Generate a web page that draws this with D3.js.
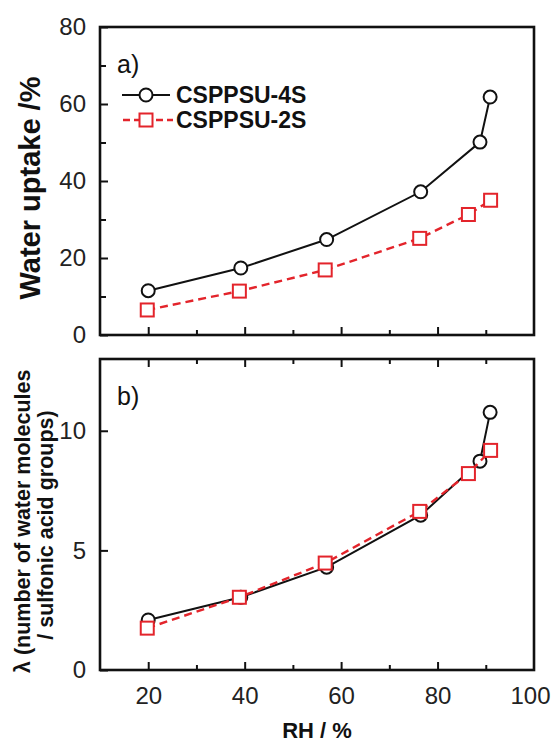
<!DOCTYPE html>
<html>
<head>
<meta charset="utf-8">
<script src="https://cdn.jsdelivr.net/npm/d3@7"></script>
<style>
	body { margin: 0; background: #fff; }
	svg { display: block; font-family: "Liberation Sans", Arial, sans-serif; }
</style>
</head>
<body>
<svg id="chart" width="558" height="744"></svg>
<script>
// RH values
var rh4S = [20, 39.2, 57, 76.5, 88.8, 90.9];
var rh2S = [19.8, 38.9, 56.7, 76.3, 86.4, 91.0];
// panel a) water uptake /%
var uptake4S = [11.5, 17.4, 24.8, 37.2, 50.1, 61.8];
var uptake2S = [6.5, 11.4, 16.9, 25.1, 31.3, 35.0];
// panel b) lambda
var lambda4S = [2.09, 3.04, 4.30, 6.47, 8.73, 10.77];
var lambda2S = [1.75, 3.04, 4.47, 6.63, 8.21, 9.18];

var seriesNames = ['CSPPSU-4S', 'CSPPSU-2S'];
var xMajor = [20, 40, 60, 80];
var xMinor = [30, 50, 70, 90];
var xLabels = [20, 40, 60, 80, 100];
var yMajorA = [0, 20, 40, 60, 80];
var yMinorA = [10, 30, 50, 70];
var yMajorB = [0, 5, 10];

var svg = d3.select('#chart');
var left = 100, right = 534;
var red = '#e3242b';

var x = d3.scaleLinear().domain([10, 100]).range([left, right]);
var yA = d3.scaleLinear().domain([0, 80]).range([335, 27]);
var yB = d3.scaleLinear().domain([0, 13]).range([670, 359]);

function toPts(xs, ys){
	var pts = [];
	for(var i = 0; i < xs.length; i++) pts.push([xs[i], ys[i]]);
	return pts;
}

function drawPanel(y, s4, s2, yMajor, yMinor, showX, topTicks, tag){
	var g = svg.append('g');
	var top = y.range()[1], bottom = y.range()[0];

	// inward ticks
	g.append('g').attr('transform', 'translate(0,' + bottom + ')')
		.call(d3.axisBottom(x).tickValues(xMajor).tickSize(-8).tickFormat(''));
	g.append('g').attr('transform', 'translate(0,' + bottom + ')')
		.call(d3.axisBottom(x).tickValues(xMinor).tickSize(-5).tickFormat(''));
	if(topTicks){
		g.append('g').attr('transform', 'translate(0,' + top + ')')
			.call(d3.axisTop(x).tickValues(xMajor).tickSize(-8).tickFormat(''));
		g.append('g').attr('transform', 'translate(0,' + top + ')')
			.call(d3.axisTop(x).tickValues(xMinor).tickSize(-5).tickFormat(''));
	}
	g.append('g').attr('transform', 'translate(' + left + ',0)')
		.call(d3.axisLeft(y).tickValues(yMajor).tickSize(-8).tickPadding(14).tickFormat(d3.format('d')));
	if(yMinor.length){
		g.append('g').attr('transform', 'translate(' + left + ',0)')
			.call(d3.axisLeft(y).tickValues(yMinor).tickSize(-6).tickFormat(''));
	}
	if(showX){
		g.append('g').attr('transform', 'translate(0,' + bottom + ')')
			.call(d3.axisBottom(x).tickValues(xLabels).tickSize(0).tickPadding(17).tickFormat(d3.format('d')));
	}
	g.selectAll('.domain').remove();
	g.selectAll('.tick line').attr('stroke', '#111').attr('stroke-width', 2);
	g.selectAll('.tick text').attr('font-size', 24).attr('fill', '#222')
		.attr('font-family', '"Liberation Sans", Arial, sans-serif');
	g.selectAll('.tick').filter(function(d){ return d == 100 && showX; })
		.select('text').attr('dx', -4);

	// frame
	g.append('rect').attr('x', left).attr('y', top)
		.attr('width', right - left).attr('height', bottom - top)
		.attr('fill', 'none').attr('stroke', '#111').attr('stroke-width', 2.6);

	var line = d3.line().x(function(d){ return x(d[0]); }).y(function(d){ return y(d[1]); });

	g.append('path').datum(s4).attr('d', line)
		.attr('fill', 'none').attr('stroke', '#111').attr('stroke-width', 2);
	g.selectAll('circle.s4').data(s4).enter().append('circle')
		.attr('class', 's4')
		.attr('cx', function(d){ return x(d[0]); })
		.attr('cy', function(d){ return y(d[1]); })
		.attr('r', 6.5).attr('fill', '#fff').attr('stroke', '#111').attr('stroke-width', 2);

	g.append('path').datum(s2).attr('d', line)
		.attr('fill', 'none').attr('stroke', red).attr('stroke-width', 2.4)
		.attr('stroke-dasharray', '8,5');
	g.selectAll('rect.s2').data(s2).enter().append('rect')
		.attr('class', 's2')
		.attr('x', function(d){ return x(d[0]) - 6.5; })
		.attr('y', function(d){ return y(d[1]) - 6.5; })
		.attr('width', 13).attr('height', 13)
		.attr('fill', '#fff').attr('stroke', red).attr('stroke-width', 2);

	g.append('text').attr('x', 117).attr('y', top + 46)
		.attr('font-size', 25).attr('fill', '#111').text(tag);
	return g;
}

var gA = drawPanel(yA, toPts(rh4S, uptake4S), toPts(rh2S, uptake2S), yMajorA, yMinorA, false, false, 'a)');
var gB = drawPanel(yB, toPts(rh4S, lambda4S), toPts(rh2S, lambda2S), yMajorB, [], true, true, 'b)');

// legend in panel a
var leg = svg.append('g');
leg.append('line').attr('x1', 122).attr('x2', 170).attr('y1', 95).attr('y2', 95)
	.attr('stroke', '#111').attr('stroke-width', 2);
leg.append('circle').attr('cx', 146).attr('cy', 95).attr('r', 6.5)
	.attr('fill', '#fff').attr('stroke', '#111').attr('stroke-width', 2);
leg.append('line').attr('x1', 123).attr('x2', 173).attr('y1', 120).attr('y2', 120)
	.attr('stroke', red).attr('stroke-width', 2.4).attr('stroke-dasharray', '7,4');
leg.append('rect').attr('x', 139.5).attr('y', 113.5).attr('width', 13).attr('height', 13)
	.attr('fill', '#fff').attr('stroke', red).attr('stroke-width', 2);
leg.selectAll('text').data(seriesNames).enter().append('text')
	.attr('x', 176).attr('y', function(d, i){ return 103 + i * 25; })
	.attr('font-size', 23).attr('font-weight', 'bold').attr('fill', '#111')
	.text(function(d){ return d; });

// axis titles
svg.append('text').attr('transform', 'translate(40,188) rotate(-90)')
	.attr('text-anchor', 'middle').attr('font-size', 29).attr('font-weight', 'bold')
	.attr('fill', '#111').text('Water uptake /%');
svg.append('text').attr('transform', 'translate(30,673) rotate(-90)')
	.attr('text-anchor', 'start').attr('font-size', 21.5).attr('font-weight', 'bold')
	.attr('fill', '#111').text('λ  (number of water molecules');
svg.append('text').attr('transform', 'translate(53,525) rotate(-90)')
	.attr('text-anchor', 'middle').attr('font-size', 21.5).attr('font-weight', 'bold')
	.attr('fill', '#111').text('/ sulfonic acid groups)');
svg.append('text').attr('x', (left + right) / 2).attr('y', 738)
	.attr('text-anchor', 'middle').attr('font-size', 22).attr('font-weight', 'bold')
	.attr('fill', '#111').text('RH / %');
</script>
</body>
</html>
